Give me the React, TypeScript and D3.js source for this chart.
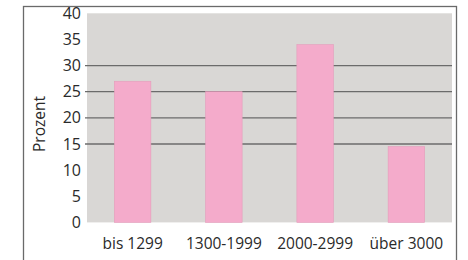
import React from 'react';
import * as d3 from 'd3';

const categories = ['bis 1299', '1300-1999', '2000-2999', 'über 3000'];
const values = [27, 25, 34, 14.5];
const yTicks = [0, 5, 10, 15, 20, 25, 30, 35, 40];
const gridTicks = [15, 20, 25, 30];

const width = 468;
const height = 260;
const plot = { left: 87, right: 452, top: 13.3, bottom: 222.4 };

const App = () => {
  const x = d3.scaleBand().domain(categories).range([plot.left, plot.right]).paddingInner(0.6).paddingOuter(0.3);
  const y = d3.scaleLinear().domain([0, 40]).range([plot.bottom, plot.top]);

  const font = "'Open Sans', sans-serif";

  return (
    <svg width={width} height={height} style={{ position: 'absolute', left: 0, top: 0 }}>
      <rect x={0} y={0} width={width} height={height} fill="#fff" />
      {/* frame */}
      <rect x={23.5} y={6.5} width={433} height={270} fill="none" stroke="#6a6a6a" strokeWidth={1.3} />
      {/* plot area */}
      <rect x={plot.left} y={plot.top} width={plot.right - plot.left} height={plot.bottom - plot.top} fill="#d9d7d5" />
      {/* gridlines */}
      {gridTicks.map(t => (
        <line key={t} x1={plot.left - 2} x2={plot.right} y1={y(t)} y2={y(t)} stroke="#6b6b6b" strokeWidth={1.3} />
      ))}
      {/* bars */}
      {categories.map((c, i) => (
        <rect
          key={c}
          x={x(c)}
          y={y(values[i])}
          width={x.bandwidth()}
          height={y(0) - y(values[i])}
          fill="#f4abcb"
          stroke="#e59cbb"
          strokeWidth={0.6}
        />
      ))}
      {/* y tick labels */}
      {yTicks.map(t => (
        <text key={t} x={81} y={y(t)} dy="0.35em" textAnchor="end" fontFamily={font} fontSize={16} fill="#2a2a2a">
          {t}
        </text>
      ))}
      {/* x labels */}
      {categories.map(c => (
        <text key={c} x={(x(c) ?? 0) + x.bandwidth() / 2} y={248.5} textAnchor="middle" fontFamily={font} fontSize={15.5} fill="#2a2a2a">
          {c}
        </text>
      ))}
      <text transform="translate(45,124) rotate(-90)" textAnchor="middle" fontFamily={font} fontSize={15.5} fill="#2a2a2a">
        Prozent
      </text>
    </svg>
  );
};

export default App;
